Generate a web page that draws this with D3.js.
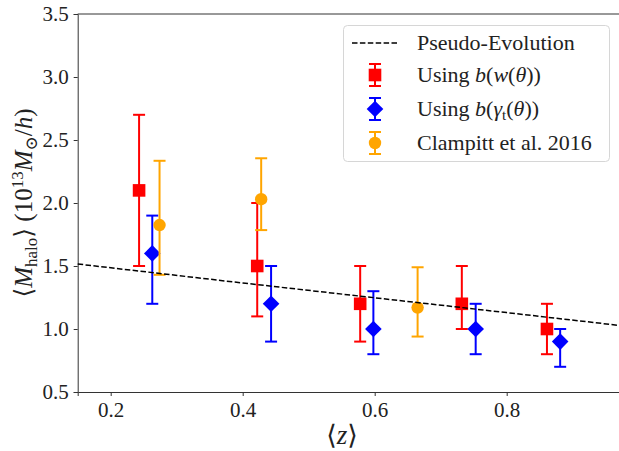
<!DOCTYPE html>
<html>
<head>
<meta charset="utf-8">
<script src="https://cdn.jsdelivr.net/npm/d3@7"></script>
<style>
  body { margin: 0; background: #fff; }
  svg { display: block; }
  text { font-family: "Liberation Serif", "DejaVu Serif", serif; fill: #222; }
</style>
</head>
<body>
<svg id="chart" width="619" height="451"></svg>
<script>
// Mean halo mass per redshift bin, in units of 1e13 Msun/h
const redZ   = [0.243, 0.422, 0.578, 0.732, 0.861];
const redM   = [2.10, 1.50, 1.20, 1.20, 1.00];
const redLo  = [1.50, 1.10, 0.90, 1.00, 0.80];
const redHi  = [2.70, 2.00, 1.50, 1.50, 1.20];

const blueZ  = [0.263, 0.443, 0.598, 0.753, 0.881];
const blueM  = [1.60, 1.20, 1.00, 1.00, 0.90];
const blueLo = [1.20, 0.90, 0.80, 0.80, 0.70];
const blueHi = [1.90, 1.50, 1.30, 1.20, 1.00];

const orangeZ  = [0.274, 0.428, 0.665];
const orangeM  = [1.825, 2.03, 1.17];
const orangeLo = [1.43, 1.785, 0.94];
const orangeHi = [2.335, 2.355, 1.49];

// Pseudo-evolution curve
const pseudoZ = [0.15, 0.40, 0.60, 0.80, 0.973];
const pseudoM = [1.516, 1.365, 1.248, 1.130, 1.027];

const xTicks = [0.2, 0.4, 0.6, 0.8];
const yTicks = [0.5, 1.0, 1.5, 2.0, 2.5, 3.0, 3.5];

const SERIF = '"Liberation Serif", "DejaVu Serif", serif';
const svg = d3.select("#chart");
const plotLeft = 77.7, plotTop = 14, plotBottom = 392;

const x = d3.scaleLinear().domain([0.15, 0.973]).range([plotLeft, plotLeft + 0.823 * 660]);
const y = d3.scaleLinear().domain([0.5, 3.5]).range([plotBottom, plotTop]);

const RED = "#ff0000", BLUE = "#0000ff", ORANGE = "#ffa500";

// Axes
const xAxis = svg.append("g").attr("transform", `translate(0,${plotBottom})`)
  .call(d3.axisBottom(x).tickValues(xTicks).tickFormat(d3.format(".1f")).tickSizeOuter(0).tickSize(4).tickPadding(6));
const yAxis = svg.append("g").attr("transform", `translate(${plotLeft},0)`)
  .call(d3.axisLeft(y).tickValues(yTicks).tickFormat(d3.format(".1f")).tickSizeOuter(0).tickSize(4).tickPadding(5));
[xAxis, yAxis].forEach(g => {
  g.style("font-family", SERIF);
  g.select(".domain").attr("stroke", "#333").attr("stroke-width", 1);
  g.selectAll(".tick line").attr("stroke", "#333");
  g.selectAll(".tick text").style("font-family", SERIF).style("font-size", "21px").attr("fill", "#222");
});
// top and right frame lines
svg.append("line").attr("x1", plotLeft).attr("x2", x.range()[1]).attr("y1", plotTop).attr("y2", plotTop)
  .attr("stroke", "#333");
svg.append("line").attr("x1", x.range()[1]).attr("x2", x.range()[1]).attr("y1", plotTop).attr("y2", plotBottom)
  .attr("stroke", "#333");

// Marker shapes
function marker(g, kind, color) {
  if (kind === "square") {
    g.append("rect").attr("x", -6.3).attr("y", -6.3).attr("width", 12.6).attr("height", 12.6).attr("fill", color);
  } else if (kind === "diamond") {
    g.append("path").attr("d", "M0,-8.3L8.3,0L0,8.3L-8.3,0Z").attr("fill", color);
  } else {
    g.append("circle").attr("r", 6.2).attr("fill", color);
  }
}

function errorSeries(zs, ms, los, his, color, kind) {
  const g = svg.append("g");
  zs.forEach((z, i) => {
    const cx = x(z);
    const e = g.append("g");
    e.append("line").attr("x1", cx).attr("x2", cx).attr("y1", y(los[i])).attr("y2", y(his[i]))
      .attr("stroke", color).attr("stroke-width", 2);
    [los[i], his[i]].forEach(v => {
      e.append("line").attr("x1", cx - 6).attr("x2", cx + 6).attr("y1", y(v)).attr("y2", y(v))
        .attr("stroke", color).attr("stroke-width", 2);
    });
    marker(e.append("g").attr("transform", `translate(${cx},${y(ms[i])})`), kind, color);
  });
}

errorSeries(redZ, redM, redLo, redHi, RED, "square");
errorSeries(blueZ, blueM, blueLo, blueHi, BLUE, "diamond");
errorSeries(orangeZ, orangeM, orangeLo, orangeHi, ORANGE, "circle");

// Pseudo-evolution dashed line
const line = d3.line().x(d => x(d[0])).y(d => y(d[1]));
svg.append("path").datum(d3.zip(pseudoZ, pseudoM)).attr("d", line)
  .attr("fill", "none").attr("stroke", "#000").attr("stroke-width", 1.5)
  .attr("stroke-dasharray", "5.5,2.4");

// Axis labels
const xl = svg.append("text").attr("x", 342).attr("y", 444).attr("text-anchor", "middle")
  .style("font-size", "27px");
xl.append("tspan").text("⟨");
xl.append("tspan").attr("font-style", "italic").text("z");
xl.append("tspan").text("⟩");

const yl = svg.append("text").attr("transform", "translate(32,203) rotate(-90)")
  .attr("text-anchor", "middle").style("font-size", "25px");
yl.append("tspan").text("⟨");
yl.append("tspan").attr("font-style", "italic").text("M");
yl.append("tspan").style("font-size", "17px").attr("dy", 5).text("halo");
yl.append("tspan").attr("dy", -5).text("⟩ (10");
yl.append("tspan").style("font-size", "17px").attr("dy", -9).text("13");
yl.append("tspan").attr("dy", 9).attr("font-style", "italic").text("M");
yl.append("tspan").style("font-size", "17px").attr("dy", 5).text("⊙");
yl.append("tspan").attr("dy", -5).text("/");
yl.append("tspan").attr("font-style", "italic").text("h");
yl.append("tspan").text(")");

// Legend
const lg = svg.append("g");
lg.append("rect").attr("x", 343.5).attr("y", 25.5).attr("width", 266).attr("height", 136).attr("rx", 4)
  .attr("fill", "#fff").attr("fill-opacity", 0.8).attr("stroke", "#d6d6d6").attr("stroke-width", 1);

const hx = 375, tx = 417;
lg.append("line").attr("x1", 352).attr("x2", 397).attr("y1", 43).attr("y2", 43)
  .attr("stroke", "#000").attr("stroke-width", 1.5).attr("stroke-dasharray", "5.5,2.4");

function legendErr(cy, color, kind) {
  const g = lg.append("g");
  g.append("line").attr("x1", hx).attr("x2", hx).attr("y1", cy - 11).attr("y2", cy + 11)
    .attr("stroke", color).attr("stroke-width", 2);
  [cy - 11, cy + 11].forEach(v => g.append("line").attr("x1", hx - 6).attr("x2", hx + 6)
    .attr("y1", v).attr("y2", v).attr("stroke", color).attr("stroke-width", 2));
  marker(g.append("g").attr("transform", `translate(${hx},${cy})`), kind, color);
}
legendErr(75, RED, "square");
legendErr(109, BLUE, "diamond");
legendErr(143, ORANGE, "circle");

function legendText(cy) {
  return lg.append("text").attr("x", tx).attr("y", cy + 7).style("font-size", "22px");
}
legendText(43).text("Pseudo-Evolution");
const t1 = legendText(75);
t1.append("tspan").text("Using ");
t1.append("tspan").attr("font-style", "italic").text("b");
t1.append("tspan").text("(");
t1.append("tspan").attr("font-style", "italic").text("w");
t1.append("tspan").text("(");
t1.append("tspan").attr("font-style", "italic").text("θ");
t1.append("tspan").text("))");
const t2 = legendText(109);
t2.append("tspan").text("Using ");
t2.append("tspan").attr("font-style", "italic").text("b");
t2.append("tspan").text("(");
t2.append("tspan").attr("font-style", "italic").text("γ");
t2.append("tspan").style("font-size", "15px").attr("dy", 4).text("t");
t2.append("tspan").attr("dy", -4).text("(");
t2.append("tspan").attr("font-style", "italic").text("θ");
t2.append("tspan").text("))");
legendText(143).text("Clampitt et al. 2016");
</script>
</body>
</html>
